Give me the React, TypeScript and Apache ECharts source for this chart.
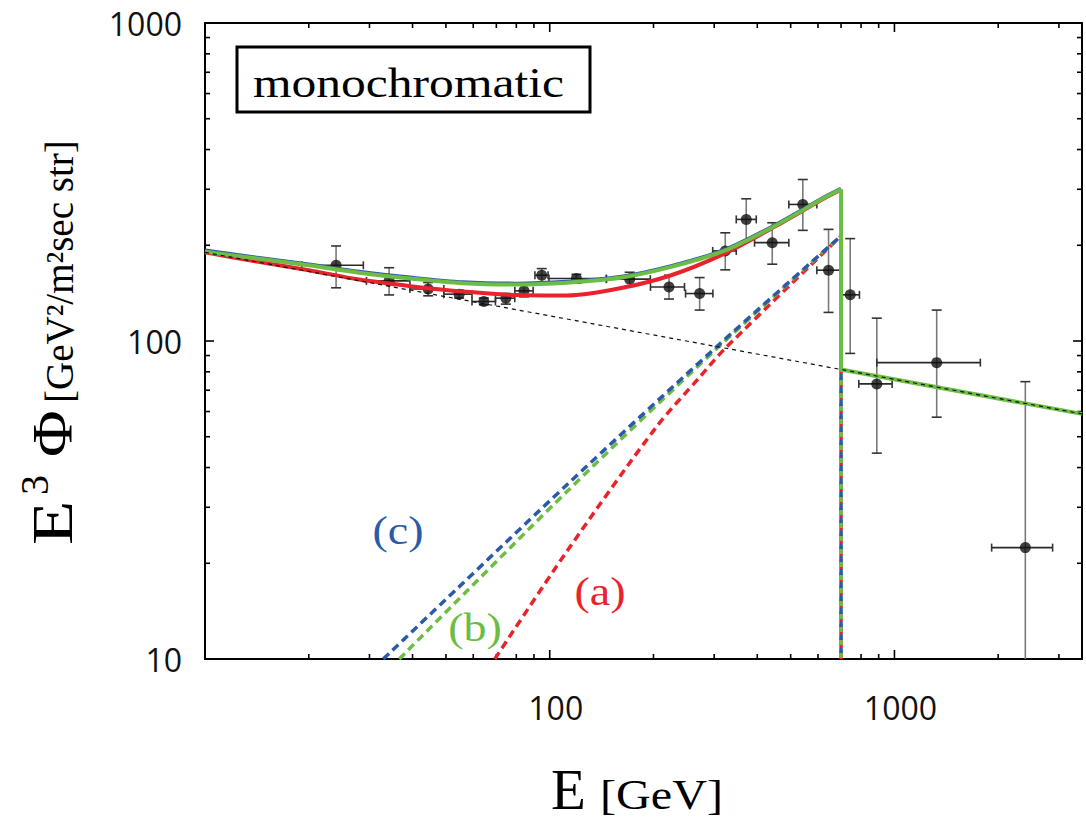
import React, { useEffect, useRef } from 'react';
import * as echarts from 'echarts';

const X_MIN = 10;
const X_MAX = 3500;
const Y_MIN = 10;
const Y_MAX = 1000;

const X_LABELS = [100, 1000];
const MAJOR_TICKS = [10, 100, 1000];
const X_MINOR_TICKS = [20, 30, 40, 50, 60, 70, 80, 90, 200, 300, 400, 500, 600, 700, 800, 900, 2000, 3000];
const Y_MINOR_TICKS = [20, 30, 40, 50, 60, 70, 80, 90, 200, 300, 400, 500, 600, 700, 800, 900];

// measured data points
const ENERGY = [24.0, 34.2, 44.4, 54.6, 64.4, 74.6, 84.2, 94.8, 119.5, 170.6, 221.8, 272.2, 323, 371.6, 442.1, 542.2, 643.9, 744.1, 888.8, 1326, 2397];
const E_LO = [19.1, 29.4, 39.3, 49.3, 59.5, 69.6, 79.2, 90.6, 99.5, 146, 196, 247.8, 297, 347.6, 392.8, 493.9, 595.5, 700.6, 788, 888.8, 1914];
const E_HI = [28.8, 39.3, 49.3, 59.5, 69.6, 79.2, 89.5, 98.9, 146, 195.8, 246, 297.4, 347.6, 397.3, 493.9, 595.5, 695.8, 791.5, 984.7, 1775, 2876];
const FLUX = [173, 154.5, 145.8, 140.4, 133.1, 136.4, 143.8, 161, 157.2, 156.5, 147.9, 141, 192, 241.2, 203.8, 268.8, 167, 139.7, 73.3, 85.5, 22.4];
const FLUX_LO = [147, 139.6, 138.7, 136.5, 130, 130.6, 137.7, 152.7, 152, 148.5, 135.5, 125.1, 167.4, 206.3, 174.4, 222.8, 123, 91.4, 44.4, 57.6, 5];
const FLUX_HI = [199, 170, 152.7, 144.5, 136.5, 141, 150.9, 168.9, 162, 164.5, 161, 158.3, 218.9, 280, 235.4, 322, 224.4, 209.9, 118, 125.1, 74.5];

// background power law (dashed black)
const BG_E = [10, 3500];
const BG_F = [190, 59];

// total fluxes (solid)
const TOTAL_E = [10, 14, 20, 28, 40, 56, 80, 112, 160, 225, 320, 450, 630, 700];
const TOTAL_A = [190, 178, 167, 156, 148.5, 143, 139.5, 139, 146.5, 161, 188, 229, 282, 299];
const TOTAL_B = [191, 182, 173, 164, 157, 152, 150.5, 152.5, 158, 171, 192, 230, 283, 300];
const TOTAL_C = [192.5, 183, 174, 165, 158, 153, 151.5, 153.5, 159, 172, 193, 231, 284, 301];
const TAIL_E = [700, 700, 3500];
const TAIL_F = [300, 81.3, 59];

// signal components (dashed)
const SIG_A_E = [69.3, 111.8, 203.7, 272, 325, 700];
const SIG_A = [10, 21.7, 53.6, 76.9, 95.5, 214];
const SIG_B_E = [36.6, 111.8, 300, 700];
const SIG_B = [10, 33.5, 93, 214];
const SIG_C_E = [32.9, 111.8, 300, 700];
const SIG_C = [10, 35.2, 94.4, 214];
const CUTOFF_E = [700, 700];
const CUTOFF_F = [214, 10];

const RED = '#e8232b';
const GREEN = '#6dbd45';
const BLUE = '#2b5ba8';
const SERIF = "'Liberation Serif', serif";
const SANS = "'Open Sans', sans-serif";

const zip = (xs: number[], ys: number[]) => xs.map((x, i) => [x, ys[i]]);

export default function App() {
  const ref = useRef<HTMLDivElement>(null);
  useEffect(() => {
    if (!ref.current) return;
    const chart = echarts.init(ref.current, null, { renderer: 'svg' });

    const errData = ENERGY.map((e, i) => [e, FLUX[i], E_LO[i], E_HI[i], FLUX_LO[i], FLUX_HI[i]]);
    const xTickData = [
      ...MAJOR_TICKS.map((v) => [v, Y_MIN, 1]),
      ...X_MINOR_TICKS.map((v) => [v, Y_MIN, 0]),
    ];
    const yTickData = [
      ...MAJOR_TICKS.map((v) => [X_MIN, v, 1]),
      ...Y_MINOR_TICKS.map((v) => [X_MIN, v, 0]),
    ];

    const lineSeries = (name: string, data: number[][], color: string, width: number, dash: any, smooth: number | boolean, dashOffset = 0) => ({
      type: 'line',
      name,
      data,
      showSymbol: false,
      symbol: 'none',
      smooth,
      clip: true,
      lineStyle: { color, width, type: dash, dashOffset, cap: 'butt' },
      silent: true,
    });

    const option: any = {
      animation: false,
      backgroundColor: '#ffffff',
      grid: {
        left: 205,
        right: 4,
        top: 21,
        bottom: 162,
        show: true,
        borderColor: '#000',
        borderWidth: 2,
        backgroundColor: 'transparent',
      },
      xAxis: {
        type: 'log',
        logBase: 10,
        min: X_MIN,
        max: X_MAX,
        axisLine: { show: false },
        axisTick: { show: false },
        splitLine: { show: false },
        axisLabel: {
          formatter: (v: number) => (X_LABELS.some((l) => Math.abs(l - v) < 1e-6) ? String(v) : ''),
          fontSize: 32,
          lineHeight: 32,
          fontFamily: SANS,
          color: '#111',
          margin: 32,
          padding: [0, 0, 0, 12],
          showMinLabel: true,
          showMaxLabel: false,
        },
      },
      yAxis: {
        type: 'log',
        logBase: 10,
        min: Y_MIN,
        max: Y_MAX,
        axisLine: { show: false },
        axisTick: { show: false },
        splitLine: { show: false },
        axisLabel: {
          formatter: (v: number) => String(Math.round(v)),
          fontSize: 32,
          lineHeight: 32,
          fontFamily: SANS,
          color: '#111',
          margin: 23,
          padding: [14, 0, 0, 0],
          showMinLabel: true,
          showMaxLabel: true,
        },
      },
      series: [
        lineSeries('sigA', zip(SIG_A_E, SIG_A), RED, 3.5, [8, 5], 0.3),
        lineSeries('sigB', zip(SIG_B_E, SIG_B), GREEN, 3.5, [8, 5], 0.3),
        lineSeries('sigC', zip(SIG_C_E, SIG_C), BLUE, 3.5, [8, 5], 0.3),
        lineSeries('cutA', zip(CUTOFF_E, CUTOFF_F), RED, 3.5, [8, 5], false, 0),
        lineSeries('cutB', zip(CUTOFF_E, CUTOFF_F), GREEN, 3.5, [8, 5], false, 2),
        lineSeries('cutC', zip(CUTOFF_E, CUTOFF_F), BLUE, 3.5, [6, 7], false, 5),
        lineSeries('totA', zip(TOTAL_E, TOTAL_A), RED, 4, 'solid', 0.3),
        lineSeries('totC', zip(TOTAL_E, TOTAL_C), BLUE, 4, 'solid', 0.3),
        lineSeries('totB', zip(TOTAL_E, TOTAL_B), GREEN, 4, 'solid', 0.3),
        lineSeries('tail', zip(TAIL_E, TAIL_F), GREEN, 4, 'solid', false),
        lineSeries('bg', zip(BG_E, BG_F), '#111', 1.2, [4, 4], false),
        {
          type: 'custom',
          name: 'errors',
          data: errData,
          clip: true,
          silent: true,
          encode: { x: 0, y: 1 },
          renderItem: (params: any, api: any) => {
            const x = api.value(0);
            const y = api.value(1);
            const pl = api.coord([api.value(2), y]);
            const pr = api.coord([api.value(3), y]);
            const pb = api.coord([x, Math.max(api.value(4), Y_MIN)]);
            const pt = api.coord([x, api.value(5)]);
            const c = api.coord([x, y]);
            const vs = { stroke: '#7a7a7a', lineWidth: 1.6 };
            const hs = { stroke: '#2a2a2a', lineWidth: 1.6 };
            const cs = { stroke: '#333', lineWidth: 1.6 };
            const children: any[] = [
              { type: 'line', shape: { x1: c[0], y1: pb[1], x2: c[0], y2: pt[1] }, style: vs },
              { type: 'line', shape: { x1: c[0] - 5, y1: pt[1], x2: c[0] + 5, y2: pt[1] }, style: cs },
              { type: 'line', shape: { x1: pl[0], y1: c[1], x2: pr[0], y2: c[1] }, style: hs },
              { type: 'line', shape: { x1: pl[0], y1: c[1] - 4, x2: pl[0], y2: c[1] + 4 }, style: cs },
              { type: 'line', shape: { x1: pr[0], y1: c[1] - 4, x2: pr[0], y2: c[1] + 4 }, style: cs },
            ];
            if (api.value(4) >= Y_MIN) {
              children.push({ type: 'line', shape: { x1: c[0] - 5, y1: pb[1], x2: c[0] + 5, y2: pb[1] }, style: cs });
            }
            return { type: 'group', children };
          },
        },
        {
          type: 'scatter',
          name: 'points',
          data: zip(ENERGY, FLUX),
          symbol: 'circle',
          symbolSize: 11,
          itemStyle: { color: '#111' },
          silent: true,
        },
        {
          type: 'custom',
          name: 'xticks',
          data: xTickData,
          clip: false,
          silent: true,
          encode: { x: 0, y: 1 },
          renderItem: (params: any, api: any) => {
            const v = api.value(0);
            const len = api.value(2) ? 9 : 5;
            const b = api.coord([v, Y_MIN]);
            const t = api.coord([v, Y_MAX]);
            const st = { stroke: '#000', lineWidth: 1.6 };
            return {
              type: 'group',
              children: [
                { type: 'line', shape: { x1: b[0], y1: b[1], x2: b[0], y2: b[1] - len }, style: st },
                { type: 'line', shape: { x1: t[0], y1: t[1], x2: t[0], y2: t[1] + len }, style: st },
              ],
            };
          },
        },
        {
          type: 'custom',
          name: 'yticks',
          data: yTickData,
          clip: false,
          silent: true,
          encode: { x: 0, y: 1 },
          renderItem: (params: any, api: any) => {
            const v = api.value(1);
            const len = api.value(2) ? 9 : 5;
            const l = api.coord([X_MIN, v]);
            const r = api.coord([X_MAX, v]);
            const st = { stroke: '#000', lineWidth: 1.6 };
            return {
              type: 'group',
              children: [
                { type: 'line', shape: { x1: l[0], y1: l[1], x2: l[0] + len, y2: l[1] }, style: st },
                { type: 'line', shape: { x1: r[0], y1: r[1], x2: r[0] - len, y2: r[1] }, style: st },
              ],
            };
          },
        },
      ],
      graphic: [
        {
          type: 'rect',
          z: 100,
          shape: { x: 237, y: 47, width: 353, height: 65 },
          style: { fill: '#fff', stroke: '#000', lineWidth: 3 },
        },
        {
          type: 'text',
          z: 101,
          x: 253,
          y: 83,
          scaleX: 1.18,
          style: { text: 'monochromatic', fontSize: 42, fontFamily: SERIF, fill: '#000', textAlign: 'left', textVerticalAlign: 'middle' },
        },
        {
          type: 'text', z: 101, x: 398, y: 531, scaleX: 1.15,
          style: { text: '(c)', fontSize: 40, fontFamily: SERIF, fill: BLUE, textAlign: 'center', textVerticalAlign: 'middle' },
        },
        {
          type: 'text', z: 101, x: 475, y: 628, scaleX: 1.15,
          style: { text: '(b)', fontSize: 40, fontFamily: SERIF, fill: GREEN, textAlign: 'center', textVerticalAlign: 'middle' },
        },
        {
          type: 'text', z: 101, x: 600, y: 592, scaleX: 1.15,
          style: { text: '(a)', fontSize: 40, fontFamily: SERIF, fill: RED, textAlign: 'center', textVerticalAlign: 'middle' },
        },
        {
          type: 'text', z: 101, x: 551, y: 789,
          style: { text: 'E', fontSize: 57, fontFamily: SERIF, fill: '#000', textAlign: 'left', textVerticalAlign: 'middle' },
        },
        {
          type: 'text', z: 101, x: 600, y: 794, scaleX: 1.12,
          style: { text: '[GeV]', fontSize: 43, fontFamily: SERIF, fill: '#000', textAlign: 'left', textVerticalAlign: 'middle' },
        },
        {
          type: 'group',
          z: 101,
          x: 0,
          y: 545,
          rotation: Math.PI / 2,
          children: [
            {
              type: 'text', x: 0, y: 52, scaleX: 1.25,
              style: { text: 'E', fontSize: 58, fontFamily: SERIF, fill: '#000', textAlign: 'left', textVerticalAlign: 'middle' },
            },
            {
              type: 'text', x: 50, y: 34,
              style: { text: '3', fontSize: 40, fontFamily: SERIF, fill: '#000', textAlign: 'left', textVerticalAlign: 'middle' },
            },
            {
              type: 'text', x: 88, y: 52, scaleX: 1.1,
              style: { text: 'Φ', fontSize: 58, fontFamily: SERIF, fill: '#000', textAlign: 'left', textVerticalAlign: 'middle' },
            },
            {
              type: 'text', x: 142, y: 59,
              style: { text: '[GeV²/m²sec str]', fontSize: 39, fontFamily: SERIF, fill: '#000', textAlign: 'left', textVerticalAlign: 'middle' },
            },
          ],
        },
      ],
    };

    chart.setOption(option);
    return () => chart.dispose();
  }, []);

  return <div ref={ref} style={{ position: 'absolute', left: 0, top: 0, width: 1086, height: 821 }} />;
}
